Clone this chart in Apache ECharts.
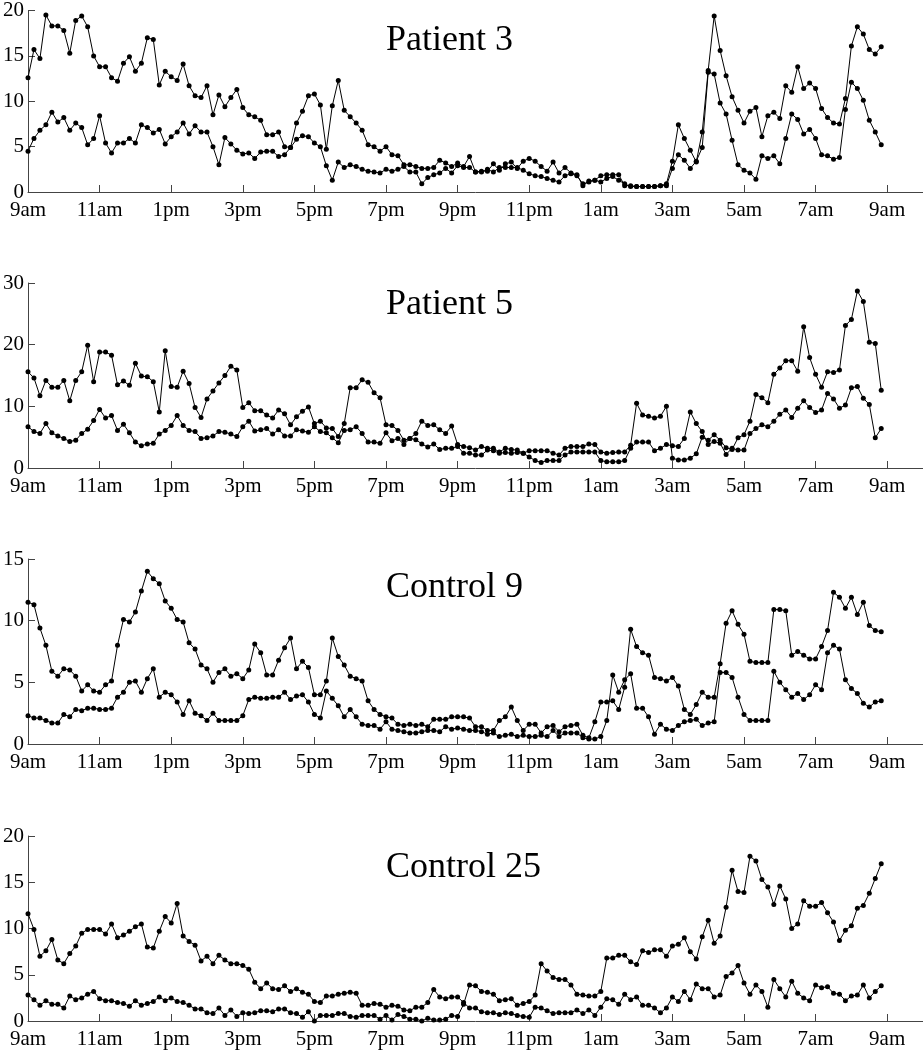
<!DOCTYPE html>
<html><head><meta charset="utf-8">
<script src="https://cdn.jsdelivr.net/npm/echarts@6/dist/echarts.min.js"></script>
<style>html,body{margin:0;padding:0;background:#fff}#c{width:923px;height:1050px}</style>
</head><body><div id="c"></div>
<script>
// x tick labels (every 2 hours from 9am) and their hour offsets
const tickLabels = ['9am','11am','1pm','3pm','5pm','7pm','9pm','11pm','1am','3am','5am','7am','9am'];
const tickHours = [0,2,4,6,8,10,12,14,16,18,20,22,24];
const panelTitles = ['Patient 3','Patient 5','Control 9','Control 25'];
const yMaxes = [20,30,15,20];
const ySteps = [5,10,5,5];

// samples every 10 minutes starting at 9am
const patient3Upper = [12.6,15.7,14.7,19.5,18.3,18.3,17.8,15.3,18.9,19.4,
 18.2,15.0,13.8,13.8,12.6,12.2,14.2,14.9,13.3,14.2,
 17.0,16.8,11.8,13.3,12.7,12.3,14.1,11.7,10.6,10.4,
 11.7,8.5,10.7,9.4,10.4,11.3,9.3,8.5,8.3,7.9,
 6.3,6.3,6.6,5.0,4.9,7.6,8.9,10.6,10.8,9.6,
 4.7,9.5,12.3,9.0,8.3,7.6,6.8,5.2,5.0,4.5,
 5.0,4.1,4.0,3.0,3.0,2.8,2.6,2.6,2.7,3.5,
 3.2,2.8,3.2,2.8,3.9,2.2,2.3,2.3,3.1,2.4,
 3.1,3.3,2.6,3.4,3.7,3.4,2.8,2.3,3.3,2.1,
 2.7,2.1,1.9,0.7,1.2,1.3,1.8,1.9,1.9,1.9,
 0.7,0.7,0.6,0.6,0.6,0.6,0.7,0.9,3.4,7.4,
 5.9,4.6,3.3,6.6,13.4,19.4,15.6,12.8,10.5,9.0,
 7.6,8.9,9.3,6.1,8.4,8.8,8.1,11.7,11.0,13.8,
 11.4,12.0,11.4,9.2,8.2,7.6,7.5,10.3,16.1,18.2,
 17.4,15.7,15.2,16.0];
const patient3Lower = [4.5,5.9,6.8,7.4,8.8,7.7,8.2,6.8,7.6,7.1,
 5.2,5.9,8.4,5.4,4.3,5.4,5.4,5.9,5.4,7.4,
 7.1,6.5,6.9,5.3,6.1,6.6,7.6,6.4,7.3,6.6,
 6.6,5.0,3.0,6.0,5.3,4.6,4.2,4.3,3.7,4.4,
 4.5,4.5,3.9,4.1,4.9,5.8,6.2,6.1,5.4,5.0,
 2.9,1.3,3.3,2.7,3.0,2.8,2.5,2.3,2.2,2.1,
 2.5,2.3,2.5,2.8,2.2,2.2,0.9,1.6,1.9,2.1,
 2.6,2.1,2.9,2.7,2.7,2.2,2.2,2.5,2.2,2.7,
 2.7,2.7,2.7,2.4,2.0,1.8,1.7,1.5,1.3,1.1,
 1.8,2.0,1.8,0.9,1.1,1.3,1.1,1.5,1.7,1.3,
 0.9,0.6,0.6,0.6,0.6,0.6,0.7,0.7,2.6,4.1,
 3.5,2.6,3.4,4.9,13.2,13.0,9.8,8.6,5.7,3.0,
 2.4,2.1,1.4,4.0,3.7,4.0,3.1,5.9,8.6,8.0,
 6.4,6.9,5.9,4.1,4.0,3.6,3.8,9.1,12.1,11.4,
 10.1,7.9,6.6,5.2];

const patient5Upper = [15.6,14.6,11.7,14.2,13.1,13.1,14.2,10.9,14.2,15.6,
 19.9,14.0,18.8,18.8,18.3,13.5,14.1,13.4,17.0,14.9,
 14.8,14.0,9.1,19.0,13.2,13.1,15.7,13.7,9.8,8.2,
 11.2,12.5,13.8,15.0,16.5,15.9,9.8,10.6,9.3,9.3,
 8.6,8.1,9.4,8.8,7.0,8.3,9.2,9.9,7.2,7.6,
 6.5,6.4,5.1,7.2,13.0,13.0,14.3,13.9,12.2,11.4,
 7.0,6.9,6.1,4.5,4.8,5.6,7.6,6.9,7.0,6.2,
 5.6,6.8,3.8,3.5,3.3,2.9,3.5,3.2,3.2,2.6,
 3.2,3.0,2.9,2.4,2.8,2.8,2.8,2.8,2.4,2.1,
 3.2,3.5,3.5,3.5,3.9,3.8,2.6,2.4,2.5,2.6,
 2.6,3.7,10.5,8.6,8.4,8.1,8.4,10.0,1.6,1.3,
 1.3,1.6,2.3,5.0,4.5,5.4,4.5,3.3,3.0,4.9,
 5.4,7.6,11.9,11.4,10.6,15.2,16.2,17.4,17.4,15.7,
 22.9,17.9,15.2,13.1,15.6,15.5,15.9,23.1,24.1,28.7,
 27.0,20.4,20.2,12.6];
const patient5Lower = [6.7,5.9,5.6,7.2,5.7,5.2,4.8,4.3,4.5,5.6,
 6.3,7.7,9.5,8.1,8.5,6.1,7.1,5.7,4.2,3.6,
 3.9,4.0,5.5,6.1,6.9,8.5,6.9,6.1,5.9,4.8,
 4.9,5.2,5.9,5.8,5.5,5.1,6.7,7.6,6.0,6.2,
 6.4,5.5,6.2,5.2,5.2,6.2,6.0,5.8,6.7,5.9,
 5.7,4.9,4.1,6.1,6.2,6.7,5.6,4.2,4.2,4.0,
 5.7,4.4,4.8,3.8,4.8,4.6,3.9,3.4,3.9,3.0,
 3.2,3.2,3.5,2.4,2.4,2.1,2.1,2.9,2.8,2.4,
 2.5,2.4,2.5,2.4,1.8,1.2,0.9,1.2,1.2,1.2,
 2.1,2.6,2.6,2.6,2.6,2.6,1.2,1.0,1.0,1.0,
 1.2,3.2,4.2,4.2,4.2,2.8,3.2,3.8,3.6,3.5,
 4.8,9.1,7.2,5.9,3.8,4.3,4.0,2.2,3.2,2.9,
 2.9,5.6,6.4,7.0,6.7,7.6,8.7,9.4,8.2,9.7,
 10.9,9.8,9.0,9.4,12.1,11.2,9.7,10.2,13.0,13.2,
 11.3,10.3,4.9,6.4];

const control9Upper = [11.5,11.3,9.4,8.0,5.9,5.5,6.1,6.0,5.5,4.3,
 4.8,4.3,4.2,4.8,5.1,8.0,10.1,9.9,10.7,12.4,
 14.0,13.4,13.0,11.6,11.0,10.1,9.9,8.2,7.7,6.4,
 6.1,5.0,5.8,6.1,5.5,5.7,5.3,6.0,8.1,7.4,
 5.6,5.6,6.8,7.8,8.6,6.1,6.7,6.2,4.0,4.0,
 5.1,8.6,7.1,6.4,5.5,5.3,5.1,3.5,2.8,2.4,
 2.2,2.1,1.6,1.5,1.6,1.5,1.6,1.4,2.0,2.0,
 2.0,2.2,2.2,2.2,2.1,1.4,1.4,1.1,1.1,1.9,
 2.2,3.0,1.9,1.1,1.6,1.6,0.9,1.4,1.5,1.0,
 1.4,1.5,1.6,0.7,0.5,1.8,3.4,3.4,3.5,2.8,
 4.6,9.3,7.9,7.4,7.2,5.4,5.3,5.1,5.4,4.7,
 2.8,2.4,3.2,4.2,3.8,3.8,6.5,9.8,10.8,9.7,
 8.9,6.7,6.6,6.6,6.6,10.9,10.9,10.8,7.2,7.5,
 7.2,6.9,6.9,7.9,9.2,12.3,11.9,11.0,11.9,10.5,
 11.5,9.6,9.2,9.1];
const control9Lower = [2.3,2.1,2.1,1.9,1.7,1.7,2.4,2.2,2.8,2.7,
 2.9,2.9,2.8,2.8,2.9,3.8,4.2,5.0,5.1,4.2,
 5.3,6.1,3.8,4.2,4.0,3.4,2.4,3.5,2.5,2.3,
 1.9,2.5,1.9,1.9,1.9,1.9,2.3,3.6,3.8,3.7,
 3.7,3.8,3.8,4.2,3.6,3.9,4.0,3.4,2.4,2.1,
 4.3,3.7,3.1,2.2,2.8,2.2,1.6,1.5,1.5,1.2,
 1.8,1.2,1.1,1.0,0.9,0.9,1.0,1.1,1.1,1.0,
 1.4,1.2,1.3,1.2,1.1,1.1,1.0,0.8,0.9,0.6,
 0.7,0.8,0.6,0.7,0.6,0.6,0.7,0.6,1.1,0.6,
 0.9,0.9,0.9,0.5,0.4,0.4,0.6,1.9,5.6,4.2,
 5.2,5.7,2.9,2.9,2.2,0.8,1.6,1.2,1.1,1.5,
 1.8,1.9,2.0,1.5,1.7,1.8,5.8,5.8,5.4,3.8,
 2.4,1.9,1.9,1.9,1.9,5.9,5.0,4.4,3.8,4.1,
 3.6,4.0,4.8,4.4,7.4,8.0,7.7,5.2,4.5,4.1,
 3.3,3.0,3.4,3.5];

const control25A = [11.6,9.9,7.0,7.6,8.8,6.6,6.2,7.3,8.1,9.5,
 9.9,9.9,9.9,9.4,10.5,9.0,9.3,9.7,10.2,10.5,
 8.0,7.9,9.7,11.3,10.6,12.7,9.2,8.6,8.2,6.5,
 7.0,6.2,7.1,6.6,6.2,6.2,6.0,5.6,4.2,3.5,
 4.1,3.5,3.4,3.8,3.2,3.5,3.1,2.9,2.1,2.0,
 2.7,2.7,2.9,3.0,3.1,3.0,1.7,1.7,1.9,1.8,
 1.5,1.7,1.6,1.2,1.1,1.5,1.5,2.0,3.4,2.6,
 2.4,2.6,2.6,2.0,1.4,1.4,1.0,0.9,0.9,0.7,
 0.9,0.8,0.6,0.5,0.4,1.5,1.4,1.1,0.8,0.9,
 0.9,0.9,1.2,0.8,1.2,0.6,1.5,2.4,2.3,1.8,
 2.9,2.3,2.6,1.7,1.7,1.4,0.9,1.4,2.6,2.1,
 3.2,2.3,4.0,3.5,3.5,2.6,2.8,4.8,5.2,6.0,
 4.1,2.9,3.9,3.2,1.5,4.5,3.5,2.6,4.3,3.0,
 2.5,2.2,3.9,3.6,3.7,3.0,2.9,2.2,2.7,2.8,
 3.9,2.5,3.2,3.8];
const control25B = [2.8,2.3,1.7,2.2,1.8,1.8,1.4,2.7,2.3,2.5,
 2.9,3.2,2.4,2.2,2.2,2.0,1.9,1.6,2.2,1.7,
 1.9,2.1,2.6,2.2,2.5,2.1,2.0,1.7,1.3,1.3,
 0.9,0.8,1.4,0.6,1.2,0.5,0.9,0.8,0.9,1.1,
 1.1,1.0,1.3,1.3,0.9,0.8,0.4,1.0,0.0,0.6,
 0.6,0.6,0.8,0.8,0.5,0.4,0.6,0.6,0.6,0.2,
 0.6,0.1,0.7,0.5,0.2,0.2,0.0,0.3,0.1,0.1,
 0.2,0.6,0.5,1.8,3.9,3.8,3.2,3.1,2.9,2.2,
 2.3,2.4,1.7,1.9,2.1,2.8,6.2,5.4,4.7,4.5,
 4.5,3.9,2.9,2.8,2.7,2.7,3.2,6.8,6.8,7.1,
 7.1,6.4,6.1,7.6,7.4,7.7,7.7,7.0,8.1,8.3,
 9.0,7.5,6.7,9.1,10.9,8.4,9.2,12.3,16.3,14.0,
 13.9,17.8,17.3,15.3,14.5,12.6,14.6,13.2,10.0,10.5,
 13.0,12.4,12.4,12.8,11.7,10.7,8.7,9.8,10.3,12.2,
 12.5,13.8,15.4,17.0];

const panelSeries = [
  [patient3Upper, patient3Lower],
  [patient5Upper, patient5Lower],
  [control9Upper, control9Lower],
  [control25A, control25B]
];

const SAMPLE_HOURS = 1/6; // 10-minute sampling
const FONT = '"Liberation Serif","Times New Roman",serif';
const gridTops = [7, 283, 559, 836];
const titleTops = [18, 282, 565, 845];

const grids = [], xAxes = [], yAxes = [], series = [], titles = [];
for (let p = 0; p < 4; p++) {
  grids.push({left: 26, right: 0, top: gridTops[p], height: 185, containLabel: false});
  titles.push({text: panelTitles[p], left: 381, top: titleTops[p],
    textStyle: {fontFamily: FONT, fontSize: 36, fontWeight: 'normal', color: '#000'}});
  xAxes.push({type: 'value', gridIndex: p, min: 0, max: 25,
    axisLine: {show: true, lineStyle: {color: '#444', width: 1}},
    axisTick: {show: true, inside: true, length: 7, customValues: tickHours, lineStyle: {color: '#444'}},
    axisLabel: {show: true, customValues: tickHours, margin: 8, fontFamily: FONT, fontSize: 21, color: '#000',
      formatter: v => tickLabels[tickHours.indexOf(v)] || ''},
    splitLine: {show: false}});
  yAxes.push({type: 'value', gridIndex: p, min: 0, max: yMaxes[p], interval: ySteps[p],
    axisLine: {show: true, lineStyle: {color: '#444', width: 1}},
    axisTick: {show: true, inside: true, length: 7, lineStyle: {color: '#444'}},
    axisLabel: {show: true, margin: 4, fontFamily: FONT, fontSize: 21, color: '#000'},
    splitLine: {show: false}});
  panelSeries[p].forEach(arr => {
    series.push({type: 'line', xAxisIndex: p, yAxisIndex: p,
      data: arr.map((v, i) => [i * SAMPLE_HOURS, v]),
      symbol: 'circle', symbolSize: 5, showSymbol: true,
      lineStyle: {color: '#000', width: 1}, itemStyle: {color: '#000'},
      emphasis: {disabled: true}, animation: false, clip: false});
  });
}

const chart = echarts.init(document.getElementById('c'), null, {renderer: 'canvas'});
chart.setOption({backgroundColor: '#fff', animation: false, title: titles,
  grid: grids, xAxis: xAxes, yAxis: yAxes, series: series});
</script></body></html>
